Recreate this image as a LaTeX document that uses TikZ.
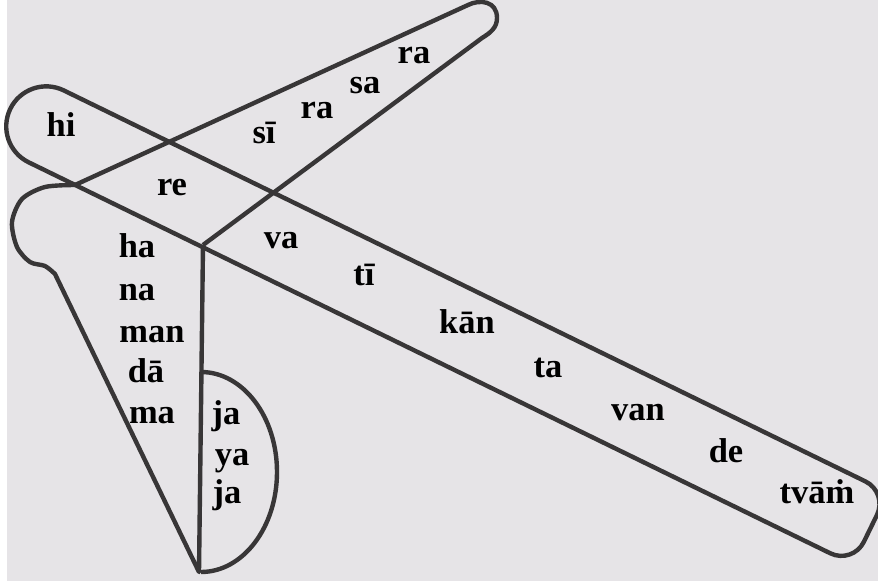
\documentclass[tikz,border=0pt]{standalone}
\usepackage{fontspec}
\setmainfont{Liberation Serif}
\begin{document}
\begin{tikzpicture}[x=0.01cm, y=0.01cm,
    edge/.style={draw=ink, line width=1.25pt, line join=round},
    syl/.style={anchor=base, inner sep=0pt, text=black, font=\fontsize{9.8}{12}\selectfont\bfseries}]
  \definecolor{ink}{HTML}{383637}
  \definecolor{paper}{HTML}{E6E4E7}
  \useasboundingbox (0,0) rectangle (878,584);
  \fill[white] (0,0) rectangle (878,584);
  \fill[paper] (7,3) rectangle (878,584);
  \begin{scope}[shift={(75,443.6)}, rotate=-26]
    \draw[edge] (-32,40) -- (860,40) arc[start angle=90, end angle=0, radius=25]
      -- (885,-15) arc[start angle=0, end angle=-90, radius=25]
      -- (-32,-40) arc[start angle=270, end angle=90, radius=40] -- cycle;
  \end{scope}
  \coordinate (kneeL) at (75,399);
  \coordinate (kneeR) at (203,339);
  \coordinate (foot) at (199,12);
  \draw[edge] (kneeL) -- (468,579) .. controls (480,585) and (497,583) .. (497,566)
    .. controls (497,556) and (490,551) .. (482,546) -- (kneeR);
  \draw[edge] plot[smooth] coordinates {(kneeL) (45,397) (22,385) (12,362) (17,337) (30,322) (45,318) (55,310)}
    -- (foot) -- (kneeR);
  \draw[edge] (201,212) arc[start angle=90, end angle=-90, x radius=76, y radius=100];
  \node[syl] (hi) at (61,448) {hi};
  \node[syl] (re) at (172,389) {re};
  \node[syl] (si) at (264,441) {sī};
  \node[syl] (raA) at (317,466) {ra};
  \node[syl] (sa) at (365,491) {sa};
  \node[syl] (raB) at (414,521) {ra};
  \node[syl] (ha) at (137,327) {ha};
  \node[syl] (na) at (137,284) {na};
  \node[syl] (man) at (152,242) {man};
  \node[syl] (daa) at (146,202) {dā};
  \node[syl] (ma) at (152,161) {ma};
  \node[syl] (jaA) at (226,160) {ja};
  \node[syl] (ya) at (232,119) {ya};
  \node[syl] (jaB) at (227,81) {ja};
  \node[syl] (va) at (281,336) {va};
  \node[syl] (ti) at (364,299) {tī};
  \node[syl] (kan) at (467,251) {kān};
  \node[syl] (ta) at (548,207) {ta};
  \node[syl] (van) at (638,164) {van};
  \node[syl] (de) at (726,122) {de};
  \node[syl] (tvam) at (817,81) {tvāṁ};
\end{tikzpicture}
\end{document}
